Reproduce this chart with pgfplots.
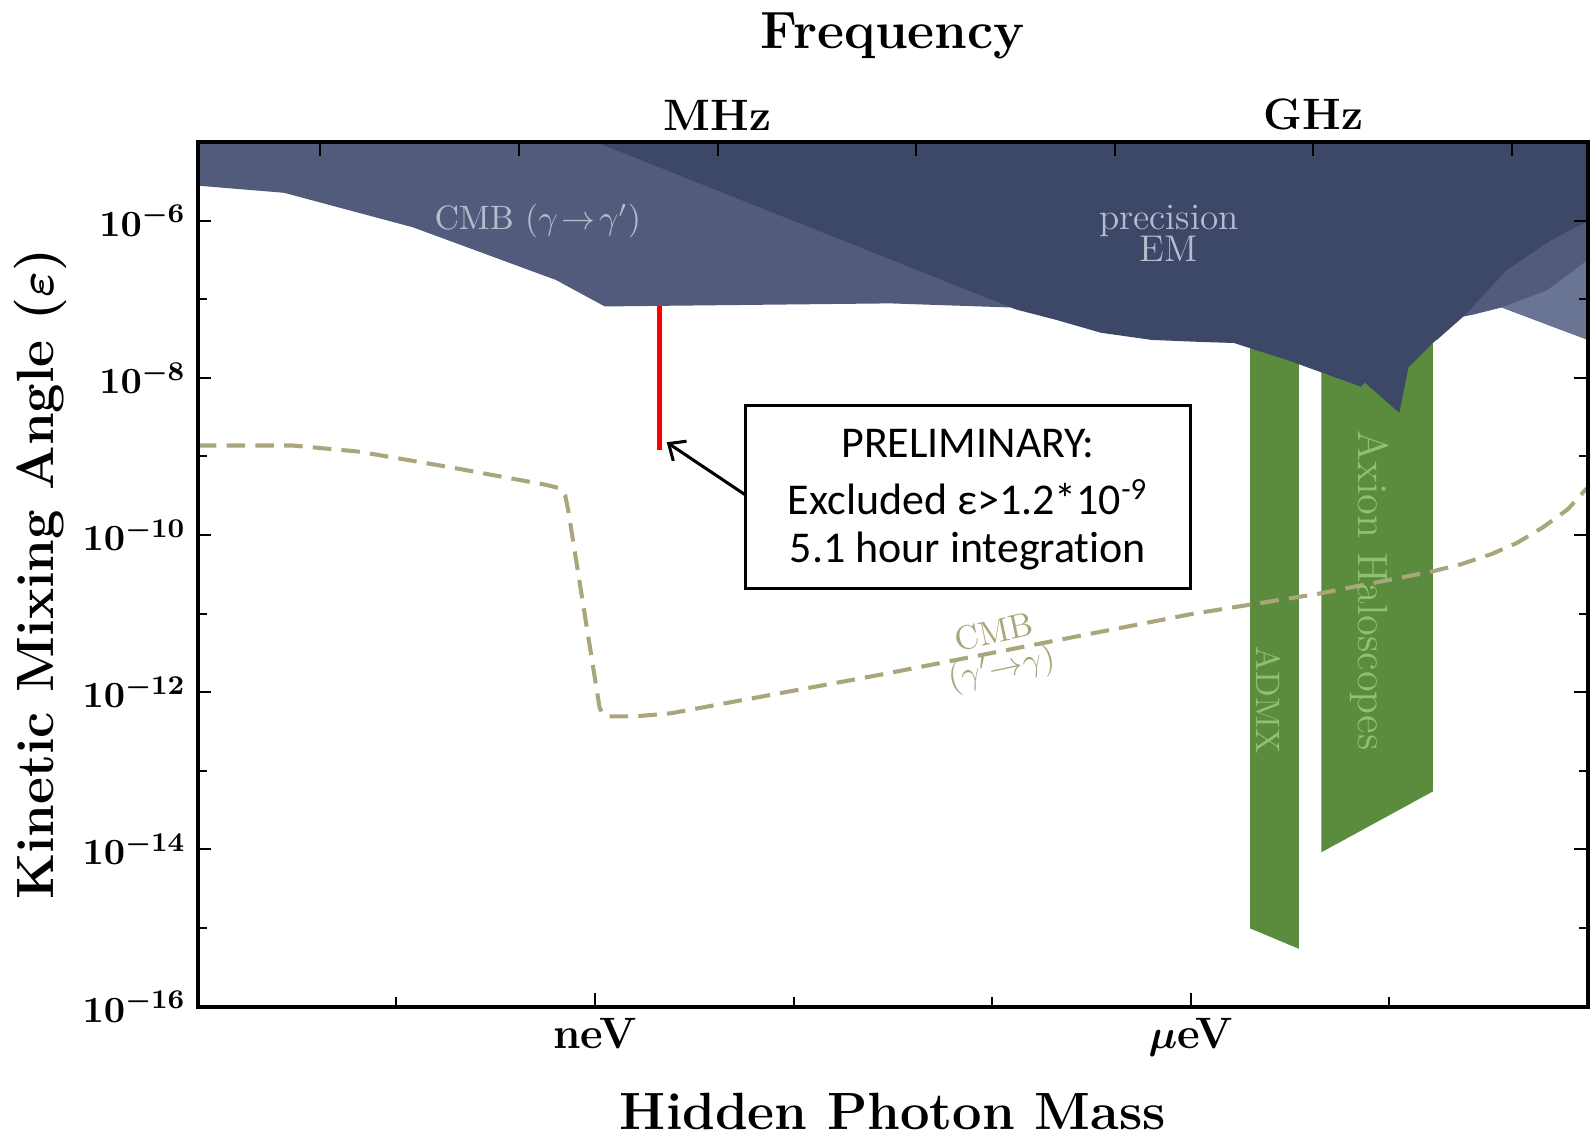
\documentclass[border=0pt]{standalone}
\usepackage{fontspec}
\usepackage{pgfplots}
\pgfplotsset{compat=1.18}
\usetikzlibrary{arrows.meta}
\newfontfamily\carlito[Ligatures=NoCommon]{Carlito}
\definecolor{cmbA}{HTML}{525B7B}
\definecolor{darkEM}{HTML}{3D4868}
\definecolor{lightR}{HTML}{6A7493}
\definecolor{grn}{HTML}{5B8C3E}
\definecolor{dashc}{HTML}{AAA67C}
\definecolor{lbl}{HTML}{B7BCCD}
\definecolor{glbl}{HTML}{8FC170}
\begin{document}
\begin{tikzpicture}
\begin{axis}[name=main, scale only axis, width=411pt, height=255.6pt,
  xmin=-11, xmax=-4, ymin=-16, ymax=-5,
  axis on top, clip mode=individual,
  xtick={-9,-6}, xticklabels={neV,$\mu$eV}, minor xtick={-10,-8,-7,-5},
  xtick pos=left,
  ytick={-16,-14,-12,-10,-8,-6},
  yticklabels={$10^{-16}$,$10^{-14}$,$10^{-12}$,$10^{-10}$,$10^{-8}$,$10^{-6}$},
  minor ytick={-15,-13,-11,-9,-7},
  tick align=inside,
  major tick length=4pt, minor tick length=2.8pt,
  axis line style={line width=1.2pt},
  every tick/.style={black,line width=0.6pt},
  xticklabel style={font=\fontsize{13}{14}\selectfont\bfseries\boldmath},
  yticklabel style={font=\fontsize{11}{12}\selectfont\bfseries\boldmath},
  xlabel={Hidden Photon Mass},
  ylabel={Kinetic Mixing Angle ($\varepsilon$)},
  every axis x label/.style={at={(axis description cs:0.5,0)}, yshift=-31pt, anchor=center,
     font=\fontsize{15.5}{17}\selectfont\bfseries\boldmath},
  every axis y label/.style={at={(axis description cs:0,0.5)}, xshift=-46.5pt, rotate=90, anchor=center,
     font=\fontsize{15.5}{17}\selectfont\bfseries\boldmath},
]
% green bands
\addplot[fill=grn, draw=none] coordinates {(-5.701,-7.3) (-5.456,-7.3) (-5.456,-15.265) (-5.701,-15.006)};
\addplot[fill=grn, draw=none] coordinates {(-5.343,-7.3) (-4.781,-7.3) (-4.781,-13.263) (-5.343,-14.038)};
% CMB gamma->gamma' region
\addplot[fill=cmbA, draw=none] coordinates {(-11,-5) (-11,-5.555) (-10.566,-5.646) (-9.917,-6.085)
  (-9.196,-6.756) (-8.951,-7.092) (-7.515,-7.053) (-6.907,-7.105) (-4.945,-7.066) (-4.761,-7.518)
  (-4.628,-7.221) (-4.577,-7.195) (-4.434,-7.105) (-4,-7.518) (-4,-5)};
\addplot[fill=lightR, draw=none] coordinates {(-4.434,-7.105) (-4.204,-6.885) (-4,-6.498) (-4,-7.518)};
% precision EM
\addplot[fill=darkEM, draw=none] coordinates {(-8.997,-5) (-6.93,-7.08) (-6.881,-7.130) (-6.682,-7.260)
  (-6.452,-7.427) (-6.197,-7.518) (-5.946,-7.544) (-5.783,-7.557) (-5.512,-7.776) (-5.144,-8.112)
  (-5.124,-8.060) (-4.950,-8.447) (-4.904,-7.866) (-4.781,-7.557) (-4.618,-7.195) (-4.408,-6.627)
  (-4.189,-6.252) (-4,-6.007) (-4,-5)};
% CMB gamma'->gamma dashed
\addplot[dashc, line width=1.2pt, dash pattern=on 5.5pt off 3pt] coordinates {
  (-11,-8.861) (-10.525,-8.861) (-10.193,-8.938) (-9.743,-9.132) (-9.25,-9.36) (-9.181,-9.403)
  (-9.15,-9.5) (-9.135,-9.687) (-8.977,-12.2) (-8.96,-12.28) (-8.931,-12.308) (-8.798,-12.308)
  (-8.619,-12.269) (-7.566,-11.779) (-5.992,-11.004) (-5.354,-10.746) (-4.781,-10.462)
  (-4.638,-10.371) (-4.485,-10.242) (-4.357,-10.100) (-4.229,-9.906) (-4.102,-9.674) (-4,-9.390)};
% measurement
\addplot[red, line width=1.3pt] coordinates {(-8.675,-7.09) (-8.675,-8.92)};
% annotations
\draw[line width=0.9pt, -{Straight Barb[length=4pt,width=7pt]}] (-8.241,-9.493) -- (-8.639,-8.82);
\draw[line width=0.9pt] (-8.241,-8.357) rectangle (-6.003,-10.681);
\node[font=\carlito\fontsize{13}{14}\selectfont] at (-7.122,-8.835) {PRELIMINARY:};
\node[font=\carlito\fontsize{13}{14}\selectfont] at (-7.122,-9.519) {Excluded ε>1.2*10\textsuperscript{-9}};
\node[font=\carlito\fontsize{13}{14}\selectfont] at (-7.122,-10.203) {5.1 hour integration};
\node[text=lbl, font=\fontsize{10}{12}\selectfont] at (-9.288,-6.007) {CMB $(\gamma\!\to\!\gamma')$};
\node[text=lbl, font=\fontsize{11}{12}\selectfont] at (-6.110,-6.0) {precision};
\node[text=lbl, font=\fontsize{11}{12}\selectfont] at (-6.110,-6.356) {EM};
\node[text=dashc, rotate=12, align=center, inner sep=0pt, font=\fontsize{10}{10.5}\selectfont] at (-6.97,-11.50) {CMB\\$(\gamma'{\to}\gamma)$};
\node[text=glbl, rotate=-90, font=\fontsize{10}{12}\selectfont] at (-5.609,-12.101) {ADMX};
\node[text=glbl, rotate=-90, font=\fontsize{12.5}{14}\selectfont] at (-5.098,-10.707) {Axion Haloscopes};
\end{axis}
\begin{axis}[scale only axis, width=411pt, height=255.6pt,
  xmin=-11, xmax=-4, ymin=-16, ymax=-5,
  axis x line*=top, axis y line=none,
  xtick={-10.383,-9.383,-8.383,-7.383,-6.383,-5.383,-4.383},
  xticklabels={,,MHz,,,GHz,},
  tick align=inside, major tick length=4pt,
  axis line style={line width=1.2pt},
  every tick/.style={black,line width=0.6pt},
  xticklabel style={font=\fontsize{13}{14}\selectfont\bfseries},
  xlabel={Frequency},
  every axis x label/.style={at={(axis description cs:0.5,1)}, yshift=31.5pt, anchor=center,
     font=\fontsize{15.5}{17}\selectfont\bfseries},
]
\addplot[draw=none] coordinates {(-10,-10)};
\end{axis}
\pgfresetboundingbox
\path[use as bounding box] ([shift={(-58.5pt,-38.7pt)}]main.south west) rectangle ([shift={(0.9pt,42pt)}]main.north east);
\end{tikzpicture}
\end{document}
